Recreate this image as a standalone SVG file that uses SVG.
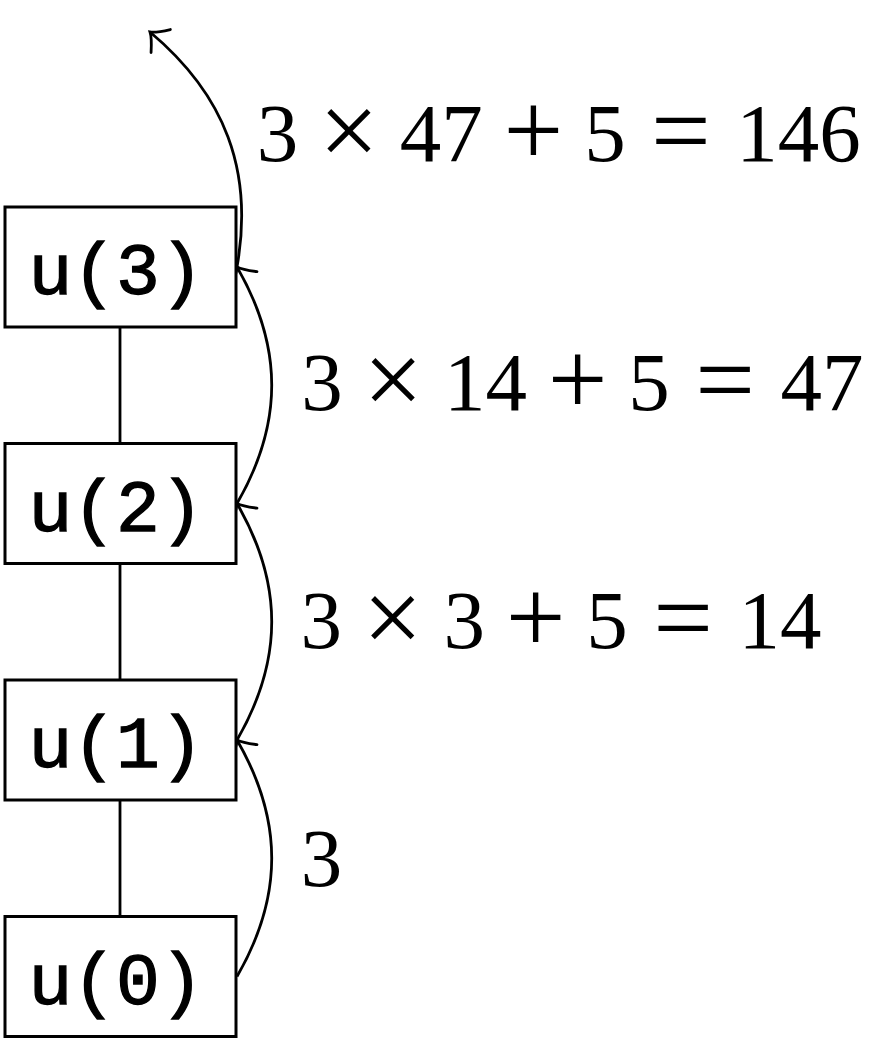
<svg xmlns="http://www.w3.org/2000/svg" width="896" height="1042" viewBox="0 0 896 1042">
  <style>
    .box { fill: #fff; stroke: #000; stroke-width: 3; }
    .lbl { font-family: "Liberation Mono", "DejaVu Sans Mono", monospace; font-size: 73px; fill: #000; stroke: #000; stroke-width: 1.3; text-anchor: middle; }
    .edge { fill: none; stroke: #000; stroke-width: 2.8; }
    .arc { fill: none; stroke: #000; stroke-width: 2.8; marker-end: url(#to); }
    .m { font-family: "Liberation Serif", "DejaVu Serif", serif; font-size: 83px; fill: #000; }
    .op { font-size: 106px; }
  </style>
  <defs>
    <marker id="to" markerUnits="userSpaceOnUse" orient="auto" overflow="visible" markerWidth="40" markerHeight="40" viewBox="-20 -20 40 40" refX="0" refY="0">
      <path d="M-14,-15 Q-5,-3 0,0 Q-5,3 -14,15" fill="none" stroke="#000" stroke-width="2.8" stroke-linecap="round"/>
    </marker>
  </defs>

  <g id="connectors">
    <line class="edge" x1="120" y1="327" x2="120" y2="443.5"/>
    <line class="edge" x1="120" y1="563.5" x2="120" y2="680"/>
    <line class="edge" x1="120" y1="800" x2="120" y2="916.5"/>
    <path class="arc" d="M237,976.5 C283.3,896.3 283.3,820.2 237,740"/>
    <path class="arc" d="M237,740 C283.3,659.8 283.3,583.7 237,503.5"/>
    <path class="arc" d="M237,503.5 C283.3,423.3 283.3,347.2 237,267"/>
    <path class="arc" d="M237,267 C254,170.5 225,95 150,32"/>
  </g>

  <g id="u3">
    <rect class="box" x="5" y="207" width="231" height="120"/>
    <text class="lbl" x="116" y="294">u(3)</text>
  </g>
  <g id="u2">
    <rect class="box" x="5" y="443.5" width="231" height="120"/>
    <text class="lbl" x="116" y="530.5">u(2)</text>
  </g>
  <g id="u1">
    <rect class="box" x="5" y="680" width="231" height="120"/>
    <text class="lbl" x="116" y="767">u(1)</text>
  </g>
  <g id="u0">
    <rect class="box" x="5" y="916.5" width="231" height="120"/>
    <text class="lbl" x="116" y="1003.5">u(0)</text>
  </g>

  <g id="labels">
    <text class="m" y="161"><tspan x="256.75">3</tspan> <tspan class="op" x="319.1" y="165.5">×</tspan> <tspan x="399.65" y="161">47</tspan> <tspan class="op" x="503.5" y="165.5">+</tspan> <tspan x="584.15" y="161">5</tspan> <tspan class="op" x="651.1" y="165.5">=</tspan> <tspan x="736.35" y="161">146</tspan></text>
    <text class="m" y="410"><tspan x="301.25">3</tspan> <tspan class="op" x="363.3" y="414.5">×</tspan> <tspan x="443.95" y="410">14</tspan> <tspan class="op" x="547.7" y="414.5">+</tspan> <tspan x="628.35" y="410">5</tspan> <tspan class="op" x="695.3" y="414.5">=</tspan> <tspan x="780.55" y="410">47</tspan></text>
    <text class="m" y="648"><tspan x="300.5">3</tspan> <tspan class="op" x="362.8" y="652.5">×</tspan> <tspan x="443.45" y="648">3</tspan> <tspan class="op" x="505.7" y="652.5">+</tspan> <tspan x="586.35" y="648">5</tspan> <tspan class="op" x="653.3" y="652.5">=</tspan> <tspan x="738.55" y="648">14</tspan></text>
    <text class="m" x="300.75" y="886">3</text>
  </g>
</svg>
